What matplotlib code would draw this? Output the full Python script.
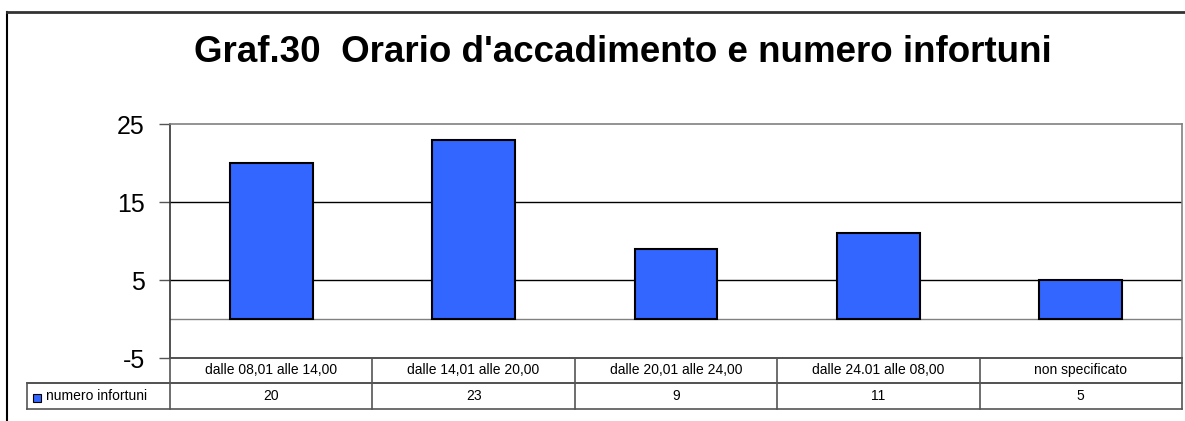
import matplotlib.pyplot as plt
from matplotlib.lines import Line2D
from matplotlib.patches import Rectangle

categorie = ['dalle 08,01 alle 14,00', 'dalle 14,01 alle 20,00', 'dalle 20,01 alle 24,00',
             'dalle 24.01 alle 08,00', 'non specificato']
infortuni = [20, 23, 9, 11, 5]
serie = 'numero infortuni'
y_ticks = [-5, 5, 15, 25]

W, H = 1185, 421
plt.rcParams['font.family'] = ['Liberation Sans', 'DejaVu Sans']

fig = plt.figure(figsize=(W / 100, H / 100), dpi=100)


def fx(px):
    return px / W


def fy(py):
    return 1 - py / H


# area del grafico (pixel)
left, right, top, bottom = 170, 1182, 124, 358
row1, row2 = 383, 409
leg_left = 27

ax = fig.add_axes([fx(left), fy(bottom), fx(right) - fx(left), fy(top) - fy(bottom)])
x = range(len(categorie))
ax.bar(x, infortuni, width=0.41, color='#3366FF', edgecolor='black', linewidth=1.5, zorder=3)
ax.set_xlim(-0.5, len(categorie) - 0.5)
ax.set_ylim(-5, 25)
ax.set_yticks(y_ticks)
ax.set_yticklabels([str(t) for t in y_ticks], fontsize=18)
ax.tick_params(axis='y', length=8, width=1, color='#555555', pad=10)
ax.set_xticks([])
for t in y_ticks[1:-1]:
    ax.axhline(t, color='black', linewidth=1, zorder=1)
ax.axhline(0, color='#808080', linewidth=1, zorder=2)
for s in ['top', 'right']:
    ax.spines[s].set_color('#808080')
ax.spines['left'].set_color('#333333')
ax.spines['bottom'].set_color('#333333')
for s in ax.spines.values():
    s.set_linewidth(1.2)

# cornice esterna
fig.add_artist(Line2D([fx(7), fx(7)], [fy(12), fy(421)], color='black', linewidth=1.5))
fig.add_artist(Line2D([fx(7), fx(1185)], [fy(12), fy(12)], color='#333333', linewidth=2))

# titolo
fig.text(fx(623), fy(62), "Graf.30  Orario d'accadimento e numero infortuni",
         ha='center', va='baseline', fontsize=26.5, fontweight='bold')

# tabella dati
col_w = (right - left) / len(categorie)
lc = '#555555'
fig.add_artist(Line2D([fx(leg_left), fx(right)], [fy(row1), fy(row1)], color='#333333', linewidth=1.2))
fig.add_artist(Line2D([fx(leg_left), fx(right)], [fy(row2), fy(row2)], color=lc, linewidth=1.2))
fig.add_artist(Line2D([fx(leg_left), fx(leg_left)], [fy(row1), fy(row2)], color=lc, linewidth=1.2))
for i in range(len(categorie) + 1):
    xp = left + i * col_w
    fig.add_artist(Line2D([fx(xp), fx(xp)], [fy(bottom), fy(row2)], color=lc, linewidth=1.2))
for i, (c, v) in enumerate(zip(categorie, infortuni)):
    xc = left + (i + 0.5) * col_w
    fig.text(fx(xc), fy(374), c, ha='center', va='baseline', fontsize=10)
    fig.text(fx(xc), fy(400), str(v), ha='center', va='baseline', fontsize=10)

# legenda nella tabella
fig.add_artist(Rectangle((fx(33), fy(402)), fx(8), fy(394) - fy(402),
                         facecolor='#3366FF', edgecolor='black', linewidth=0.8))
fig.text(fx(46), fy(400), serie, ha='left', va='baseline', fontsize=10)

fig.savefig('out.png', dpi=100)
